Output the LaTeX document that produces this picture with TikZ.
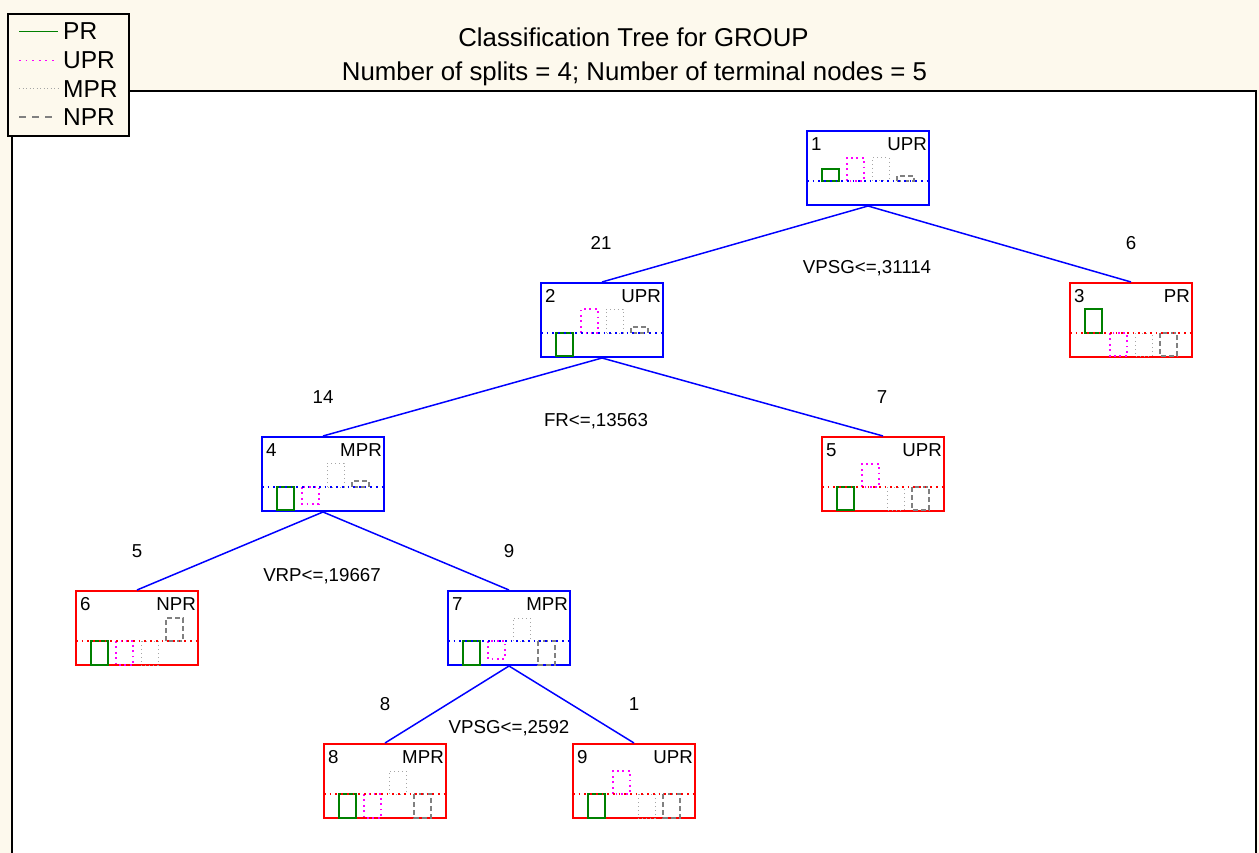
\documentclass[tikz,border=0pt]{standalone}
\usepackage{fontspec}
\setmainfont{Liberation Sans}
\usetikzlibrary{calc}
\definecolor{cream}{RGB}{253,249,237}
\definecolor{prgreen}{RGB}{0,128,0}
\definecolor{uprmag}{RGB}{255,0,255}
\definecolor{mprgray}{RGB}{165,165,165}
\definecolor{nprgray}{RGB}{128,128,128}
\definecolor{treeblue}{RGB}{0,0,255}
\definecolor{treered}{RGB}{255,0,0}
\tikzset{
  tbox/.style={rectangle, line width=2pt, minimum width=122pt, minimum height=74pt, inner sep=0pt, fill=white},
  smalltxt/.style={font=\fontsize{18.7}{21}\selectfont, inner sep=0pt},
  titletxt/.style={font=\fontsize{25.8}{29}\selectfont, inner sep=0pt},
  legtxt/.style={font=\fontsize{24.5}{27}\selectfont, inner sep=0pt},
  edge/.style={draw=treeblue, line width=1.5pt},
  midline/.style={line width=1.7pt, dash pattern=on 1.7pt off 4pt},
  prbar/.style={draw=prgreen, line width=1.5pt},
  uprbar/.style={draw=uprmag, line width=1.8pt, dash pattern=on 1.8pt off 3.6pt},
  mprbar/.style={draw=mprgray, line width=1pt, dash pattern=on 1pt off 3pt},
  nprbar/.style={draw=nprgray, line width=1.5pt, dash pattern=on 5pt off 3pt},
  legendbox/.style={rectangle, draw=black, line width=2pt, fill=cream, inner sep=0pt, minimum width=121pt, minimum height=122pt},
}
\newcommand\tnode[5]{%
  \node[tbox, draw=#3] (#1) at (#2) {};
  \node[smalltxt, anchor=north west] (#1num) at ($(#1.north west)+(5,7.5)$) {#4};
  \node[smalltxt, anchor=north east] (#1cls) at ($(#1.north east)+(-3,7.5)$) {#5};
}
\newcommand\tbars[6]{%
  \begin{scope}[shift={(#1.center)}]
    \draw[prbar]  (-46,13) rectangle ++(17,{-1*(#3)});
    \draw[uprbar] (-21,13) rectangle ++(17,{-1*(#4)});
    \draw[mprbar] (4,13)   rectangle ++(17,{-1*(#5)});
    \draw[nprbar] (29,13)  rectangle ++(17,{-1*(#6)});
    \draw[midline, draw=#2] (-61,13) -- (61,13);
  \end{scope}
}
\begin{document}
\begin{tikzpicture}[x=1pt, y=-1pt]
  \useasboundingbox (0,0) rectangle (1259,853);
  \fill[cream] (0,0) rectangle (1259,853);
  % plot frame
  \fill[white] (12,91) rectangle (1256,860);
  \draw[black, line width=1.6pt] (12,860) -- (12,91) -- (1256,91) -- (1256,860);
  % title
  \node[titletxt, anchor=base] (title1) at (633.5,47) {Classification Tree for GROUP};
  \node[titletxt, anchor=base] (title2) at (634.5,81) {Number of splits = 4; Number of terminal nodes = 5};
  % tree nodes
  \tnode{n1}{868,168}{treeblue}{1}{UPR}
  \tnode{n2}{602,320}{treeblue}{2}{UPR}
  \tnode{n3}{1131,320}{treered}{3}{PR}
  \tnode{n4}{323,474}{treeblue}{4}{MPR}
  \tnode{n5}{883,474}{treered}{5}{UPR}
  \tnode{n6}{137,628}{treered}{6}{NPR}
  \tnode{n7}{509,628}{treeblue}{7}{MPR}
  \tnode{n8}{385,781}{treered}{8}{MPR}
  \tnode{n9}{634,781}{treered}{9}{UPR}
  % edges
  \draw[edge] (n1.south) -- (n2.north);
  \draw[edge] (n1.south) -- (n3.north);
  \draw[edge] (n2.south) -- (n4.north);
  \draw[edge] (n2.south) -- (n5.north);
  \draw[edge] (n4.south) -- (n6.north);
  \draw[edge] (n4.south) -- (n7.north);
  \draw[edge] (n7.south) -- (n8.north);
  \draw[edge] (n7.south) -- (n9.north);
  % bars
  \tbars{n1}{treeblue}{12}{23}{23}{5}
  \tbars{n2}{treeblue}{-23}{24}{24}{6}
  \tbars{n3}{treered}{24}{-23}{-23}{-23}
  \tbars{n4}{treeblue}{-23}{-17}{24}{6}
  \tbars{n5}{treered}{-23}{23}{-23}{-23}
  \tbars{n6}{treered}{-24}{-24}{-24}{23}
  \tbars{n7}{treeblue}{-24}{-18}{23}{-24}
  \tbars{n8}{treered}{-24}{-24}{23}{-24}
  \tbars{n9}{treered}{-24}{23}{-24}{-24}
  % counts
  \node[smalltxt] (c2) at (601,243) {21};
  \node[smalltxt] (c3) at (1131,243) {6};
  \node[smalltxt] (c4) at (323,397) {14};
  \node[smalltxt] (c5) at (882,397) {7};
  \node[smalltxt] (c6) at (137,551) {5};
  \node[smalltxt] (c7) at (509,551) {9};
  \node[smalltxt] (c8) at (385,704) {8};
  \node[smalltxt] (c9) at (634,704) {1};
  % split rules
  \node[smalltxt, anchor=base] (s1) at (867,273.5) {VPSG<=,31114};
  \node[smalltxt, anchor=base] (s2) at (596,426.5) {FR<=,13563};
  \node[smalltxt, anchor=base] (s4) at (322,581.5) {VRP<=,19667};
  \node[smalltxt, anchor=base] (s7) at (509,733.5) {VPSG<=,2592};
  % legend
  \node[legendbox] (legend) at (68.5,75) {};
  \coordinate (l1a) at (19,31.5);  \coordinate (l1b) at (58,31.5);
  \coordinate (l2a) at (19,60.5);  \coordinate (l2b) at (58,60.5);
  \coordinate (l3a) at (19,89);    \coordinate (l3b) at (58,89);
  \coordinate (l4a) at (19,117);   \coordinate (l4b) at (58,117);
  \draw[draw=prgreen, line width=1.5pt] (l1a) -- (l1b);
  \draw[draw=uprmag, line width=1.8pt, dash pattern=on 1.8pt off 4.8pt] (l2a) -- (l2b);
  \draw[draw=mprgray, line width=1pt, dash pattern=on 1pt off 2.5pt] (l3a) -- (l3b);
  \draw[draw=nprgray, line width=1.5pt, dash pattern=on 7pt off 6pt] (l4a) -- (l4b);
  \node[legtxt, anchor=west] (lpr)  at (63,31.5) {PR};
  \node[legtxt, anchor=west] (lupr) at (63,60.5) {UPR};
  \node[legtxt, anchor=west] (lmpr) at (63,89) {MPR};
  \node[legtxt, anchor=west] (lnpr) at (63,117) {NPR};
\end{tikzpicture}
\end{document}
